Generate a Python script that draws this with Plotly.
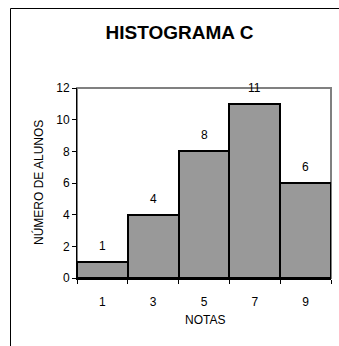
import plotly.graph_objects as go

notas = [1, 3, 5, 7, 9]
alunos = [1, 4, 8, 11, 6]
limites = [0, 2, 4, 6, 8, 10]
y_ticks = [0, 2, 4, 6, 8, 10, 12]

W, H = 339, 346
ml, mr, mt, mb = 77, 8, 88, 68
pw, ph = W - ml - mr, H - mt - mb

fig = go.Figure()
fig.add_trace(go.Bar(
    x=notas, y=alunos, width=2,
    marker=dict(color="#999999", line=dict(color="black", width=2)),
    hoverinfo="skip",
))

font = "Liberation Sans, Arial, sans-serif"
fs = 12
annotations = []
for n, a in zip(notas, alunos):
    annotations.append(dict(x=n, y=a, xref="x", yref="y", text=str(a), showarrow=False,
                            yanchor="bottom", yshift=7, font=dict(size=fs, color="black", family=font)))
annotations.append(dict(x=(38 - ml) / pw, y=0.5, xref="paper", yref="paper", text="NÚMERO DE ALUNOS",
                        textangle=-90, showarrow=False, xanchor="center", yanchor="middle",
                        font=dict(size=fs, color="black", family=font)))
annotations.append(dict(x=(205 - ml) / pw, y=-42 / ph, xref="paper", yref="paper", text="NOTAS",
                        showarrow=False, xanchor="center", yanchor="middle",
                        font=dict(size=fs, color="black", family=font)))

shapes = [
    # plot area frame (gray)
    dict(type="rect", xref="paper", yref="paper", x0=0, y0=0, x1=1, y1=1,
         line=dict(color="#808080", width=2), layer="below"),
    # outer chart frame
    dict(type="line", xref="paper", yref="paper", x0=(10.5 - ml) / pw, x1=(10.5 - ml) / pw,
         y0=-1, y1=1 + (mt - 8.5) / ph, line=dict(color="black", width=1)),
    dict(type="line", xref="paper", yref="paper", x0=(10.5 - ml) / pw, x1=1.2,
         y0=1 + (mt - 8.5) / ph, y1=1 + (mt - 8.5) / ph, line=dict(color="black", width=1)),
]

fig.update_layout(
    width=W, height=H,
    margin=dict(l=ml, r=mr, t=mt, b=mb),
    paper_bgcolor="white", plot_bgcolor="white",
    showlegend=False,
    bargap=0,
    font=dict(family=font, size=fs, color="black"),
    title=dict(text="<b>HISTOGRAMA C</b>", x=179.5 / W, y=1 - 32 / H, xanchor="center", yanchor="middle",
               xref="container", yref="container", font=dict(size=19, color="black", family=font)),
    annotations=annotations,
    shapes=shapes,
    xaxis=dict(range=[0, 10], tickvals=notas, ticktext=[str(n) for n in notas],
               showgrid=False, zeroline=False, showline=True, linecolor="black", linewidth=2,
               ticks="", ticklabelstandoff=12,
               minor=dict(tickvals=limites, ticks="outside", ticklen=4, tickcolor="black", tickwidth=1, showgrid=False),
               tickfont=dict(size=fs, color="black")),
    yaxis=dict(range=[0, 12], tickvals=y_ticks, showgrid=False, zeroline=False,
               showline=True, linecolor="black", linewidth=1,
               ticks="outside", ticklen=4, tickcolor="black",
               tickfont=dict(size=fs, color="black")),
)

fig.write_html("out.html")
